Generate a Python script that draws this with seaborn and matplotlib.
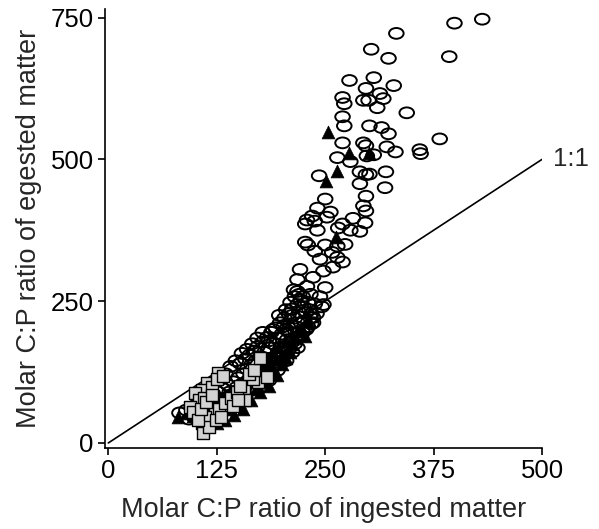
import matplotlib
matplotlib.use("Agg")
import matplotlib.pyplot as plt
import seaborn as sns
from matplotlib.path import Path
from matplotlib.markers import MarkerStyle
from matplotlib.transforms import Affine2D

# open circles (x = ingested C:P, y = egested C:P)
circle_x = [431, 399, 332, 303, 323, 393, 278, 306, 329, 297, 270, 272, 294, 300,
            313, 317, 310, 344, 270, 272, 301, 315, 323, 382, 321, 331, 359, 360,
            320, 270, 294, 297, 306, 298, 264, 279, 243, 290, 297, 301, 290, 319,
            250, 297, 241, 256, 294, 297, 235, 252, 229, 238, 282, 296, 227, 241,
            270, 265, 279, 290, 273, 264, 227, 230, 250, 238, 258, 244, 264, 270,
            248, 236, 259, 221, 218, 229, 218, 250, 233, 244, 248, 233, 236, 219,
            82, 90, 96, 102, 108, 114, 120, 126, 132, 138, 144, 150, 156, 160,
            165, 170, 175, 180, 185, 190, 195, 200, 205, 210, 215, 220, 225, 230,
            152, 158, 163, 168, 172, 178, 183, 188, 193, 198, 203, 208, 212, 218,
            222, 140, 148, 155, 162, 168, 175, 182, 188, 195, 200, 206, 212, 218,
            224, 230, 236, 240, 232, 246, 125, 132, 118,
            205, 210, 215, 220, 214, 224, 228, 206, 200, 196, 192, 186, 181, 176,
            171, 166, 160, 154, 148, 142, 136, 130, 124, 117, 111, 105, 99, 93,
            210, 202, 197, 190, 185, 178, 172, 166, 160, 154, 147, 141, 135, 129,
            226, 234, 238, 216, 222, 212,
            150, 160, 170, 180, 190, 200, 208, 215, 222, 228, 234, 140, 130, 120,
            112, 185, 195, 205, 212, 218]
circle_y = [747, 740, 722, 694, 678, 681, 639, 644, 630, 625, 609, 598, 604, 604,
            616, 607, 591, 582, 575, 559, 559, 556, 545, 536, 522, 513, 517, 510,
            478, 529, 529, 524, 508, 506, 503, 496, 471, 478, 473, 474, 457, 450,
            430, 435, 414, 407, 418, 409, 400, 398, 393, 391, 396, 388, 386, 375,
            386, 379, 375, 373, 350, 347, 354, 349, 349, 338, 336, 324, 327, 319,
            303, 292, 310, 306, 288, 276, 267, 274, 262, 258, 244, 221, 221, 196,
            53, 58, 62, 68, 72, 78, 84, 90, 96, 102, 108, 115, 122, 130,
            138, 145, 152, 160, 168, 175, 185, 192, 200, 210, 220, 230, 240, 248,
            140, 148, 155, 162, 170, 178, 186, 195, 203, 212, 220, 228, 236, 244,
            252, 90, 98, 105, 112, 118, 125, 132, 140, 150, 160, 170, 178, 186,
            195, 205, 212, 228, 235, 240, 70, 78, 62,
            235, 248, 258, 262, 270, 258, 230, 182, 170, 160, 152, 145, 138, 130,
            122, 115, 108, 100, 92, 85, 80, 72, 66, 58, 55, 48, 45, 42,
            195, 205, 225, 200, 180, 195, 185, 175, 165, 158, 145, 135, 122, 112,
            215, 228, 245, 205, 212, 225,
            80, 95, 105, 120, 135, 150, 165, 175, 190, 200, 210, 70, 60, 50,
            50, 110, 128, 145, 160, 168]

# filled triangles
tri_x = [253, 278, 300, 264, 251, 263, 227,
         80, 92, 98, 105, 115, 120, 128, 135, 142, 150, 158, 163, 170, 178,
         185, 190, 196, 205, 175, 188, 110, 145,
         125, 132, 140, 152, 160, 168, 182, 198, 212, 118, 138, 156, 172,
         150, 160, 170, 180, 190, 200, 210, 215, 222, 195, 185, 175, 165,
         155, 145, 135, 125, 230, 205]
tri_y = [549, 512, 512, 480, 462, 363, 188,
         45, 52, 48, 60, 55, 70, 82, 78, 92, 100, 105, 118, 125, 135,
         150, 160, 170, 180, 115, 140, 40, 68,
         55, 62, 75, 88, 95, 108, 128, 150, 175, 45, 60, 80, 100,
         70, 85, 95, 110, 125, 140, 160, 185, 200, 120, 100, 90, 75,
         60, 50, 40, 35, 215, 150]

# grey squares
sq_x = [108, 109, 114, 108, 100, 104, 94, 126, 138, 149, 156, 172, 183, 123,
        137, 158, 167, 112, 116, 98, 110, 120, 125, 132, 128, 134, 142, 148,
        152, 162, 168, 103, 107, 113, 119, 124, 130, 144, 150, 175]
sq_y = [35, 18, 106, 94, 88, 76, 64, 124, 71, 81, 97, 108, 117, 58,
        64, 76, 112, 45, 28, 55, 80, 98, 112, 118, 60, 70, 80, 90,
        100, 122, 128, 40, 60, 72, 84, 40, 45, 65, 75, 150]

# 1:1 reference line
line_x = [0, 500]
line_y = [0, 500]

sns.set_style("ticks")
plt.rcParams["font.family"] = ["Liberation Sans", "DejaVu Sans"]

fig = plt.figure(figsize=(5.99, 5.29), dpi=100)
ax = fig.add_axes([0.175, 0.153, 0.73, 0.83])

ellipse = MarkerStyle(Path.unit_circle().transformed(Affine2D().scale(1.0, 0.74)))

sns.lineplot(x=line_x, y=line_y, color="black", linewidth=1.2, ax=ax)
sns.scatterplot(x=circle_x, y=circle_y, marker=ellipse, s=110, color="black",
                facecolor="none", edgecolor="black", linewidth=1.4, ax=ax, zorder=3)
sns.scatterplot(x=tri_x, y=tri_y, marker="^", s=85, color="black",
                edgecolor="black", linewidth=0.5, ax=ax, zorder=4)
sns.scatterplot(x=sq_x, y=sq_y, marker="s", s=75, color="#d2d2d2",
                edgecolor="black", linewidth=1.0, ax=ax, zorder=5)

ax.set_xlim(-4, 500)
ax.set_ylim(-9, 765)
ax.set_xticks([0, 125, 250, 375, 500])
ax.set_yticks([0, 250, 500, 750])
ax.tick_params(labelsize=18.5, length=5, width=1.2, pad=3, colors="black")
for side in ["left", "bottom"]:
    ax.spines[side].set_linewidth(1.2)
    ax.spines[side].set_color("black")
sns.despine(ax=ax)

ax.text(533, 500, "1:1", fontsize=18.5, ha="center", va="center", clip_on=False)
ax.set_xlabel("Molar C:P ratio of ingested matter", fontsize=19.5, labelpad=10)
ax.set_ylabel("Molar C:P ratio of egested matter", fontsize=19.5, labelpad=6)

fig.savefig("out.png", dpi=100)
